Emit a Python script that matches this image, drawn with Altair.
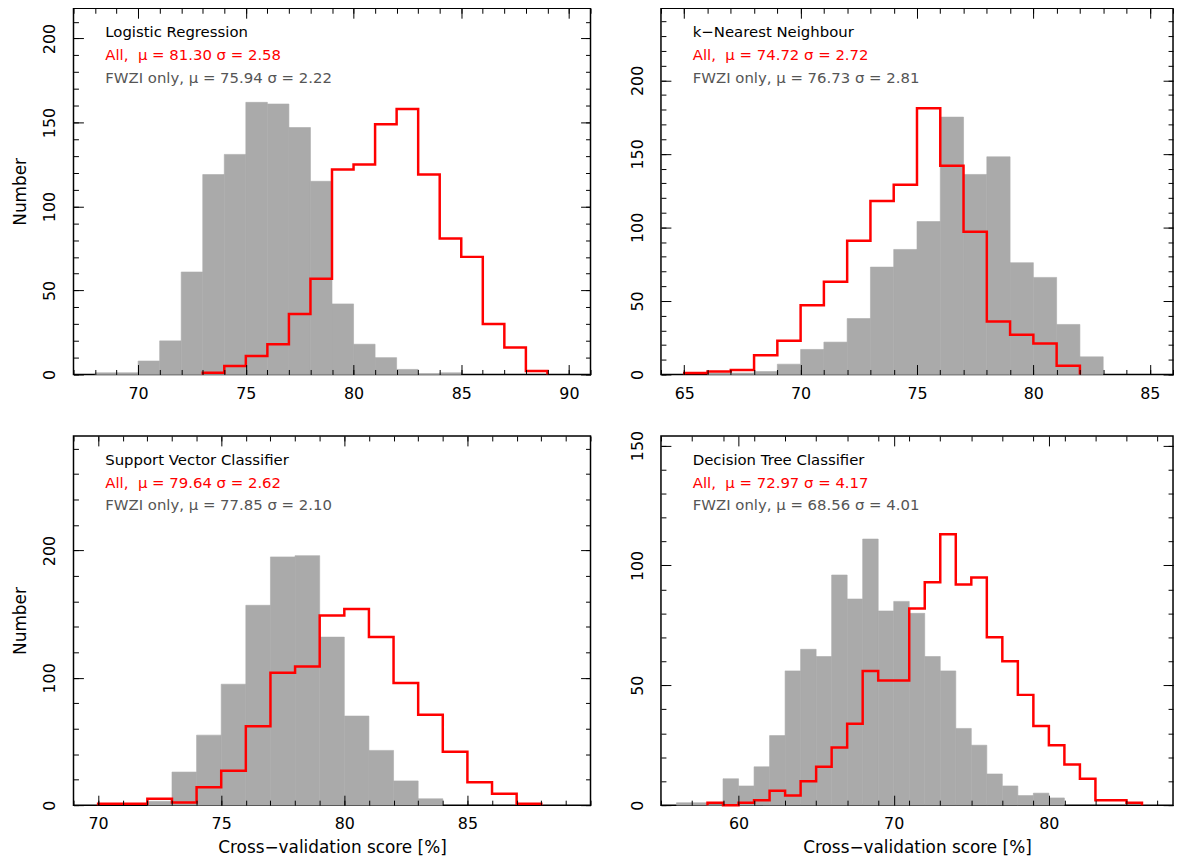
import altair as alt
import pandas as pd

FONT = "DejaVu Sans"

# ---------------- data ----------------
# Logistic Regression
lr_gray_start = 68
lr_gray = [1, 1, 8, 20, 61, 119, 131, 162, 161, 147, 115, 42, 18, 10, 3, 0, 1]
lr_red_start = 73
lr_red = [1, 5, 11, 18, 36, 57, 122, 125, 149, 158, 119, 81, 70, 30, 16, 2]

# k-Nearest Neighbour
knn_gray_start = 66
knn_gray = [1, 1, 2, 7, 17, 22, 38, 73, 85, 104, 175, 136, 148, 76, 66, 34, 12]
knn_red_start = 65
knn_red = [1, 2, 3, 13, 23, 47, 63, 91, 118, 129, 181, 142, 97, 36, 27, 21, 6]

# Support Vector Classifier
svc_gray_start = 72
svc_gray = [3, 26, 55, 95, 157, 195, 196, 132, 70, 43, 19, 5]
svc_red_start = 70
svc_red = [1, 1, 5, 2, 14, 27, 62, 104, 109, 149, 154, 132, 96, 71, 42, 18, 9, 1]

# Decision Tree Classifier
dt_gray_start = 56
dt_gray = [1, 1, 0, 11, 8, 16, 29, 56, 65, 62, 96, 86, 111, 81, 85, 80, 62, 56,
           32, 25, 13, 8, 4, 5, 3]
dt_red_start = 58
dt_red = [1, 0, 1, 2, 6, 4, 10, 16, 24, 34, 56, 52, 52, 82, 93, 113, 92, 95, 70,
          60, 46, 33, 25, 17, 11, 2, 2, 1]

titles = ["Logistic Regression", "k\u2212Nearest Neighbour",
          "Support Vector Classifier", "Decision Tree Classifier"]
all_stats = [("81.30", "2.58"), ("74.72", "2.72"), ("79.64", "2.62"), ("72.97", "4.17")]
fwzi_stats = [("75.94", "2.22"), ("76.73", "2.81"), ("77.85", "2.10"), ("68.56", "4.01")]

x_domains = [[67, 91], [64, 86], [69, 90], [55, 88]]
x_major = [[70, 75, 80, 85, 90], [65, 70, 75, 80, 85], [70, 75, 80, 85], [60, 70, 80]]
x_minor_step = [1, 1, 1, 2]
y_domains = [[0, 218], [0, 249], [0, 290], [0, 154]]
y_major = [[0, 50, 100, 150, 200], [0, 50, 100, 150, 200], [0, 100, 200], [0, 50, 100, 150]]
y_minor_step = [10, 10, 20, 10]

X_TITLE = "Cross\u2212validation score [%]"
Y_TITLE = "Number"

GRAY = "#aaaaaa"
RED = "#ff0000"
TXT_GRAY = "#555555"


def frange(lo, hi, step):
    out = []
    v = lo
    while v <= hi:
        out.append(v)
        v += step
    return out


def bars_df(start, counts):
    return pd.DataFrame({
        "x0": [start + i for i in range(len(counts))],
        "x1": [start + i + 1 for i in range(len(counts))],
        "count": counts,
    })


def step_df(start, counts):
    xs = [start] + [start + i for i in range(len(counts))] + [start + len(counts)]
    ys = [0] + list(counts) + [0]
    return pd.DataFrame({"x": xs, "count": ys, "order": list(range(len(xs)))})


def label_axis(orient, values, title, is_y=False):
    kw = dict(orient=orient, values=values, ticks=False, domain=False, grid=False,
              labelFont=FONT, labelFontSize=16, labelColor="black",
              titleFont=FONT, titleFontSize=17, titleFontWeight="normal",
              titleColor="black", title=title)
    if is_y:
        kw.update(labelAngle=-90, labelAlign="center", labelBaseline="bottom",
                  labelPadding=16, titlePadding=12)
    else:
        kw.update(labelPadding=11, titlePadding=8)
    return alt.Axis(**kw)


def tick_axis(orient, values, size):
    return alt.Axis(orient=orient, values=values, ticks=True,
                    tickSize=alt.ExprRef(str(-size)), tickColor="black", tickWidth=1,
                    labels=False, domain=False, grid=False, title=None, zindex=2)


def panel(i, gray_start, gray, red_start, red, width, height, ytitle, xtitle):
    xs = alt.Scale(domain=x_domains[i], nice=False, zero=False)
    ys = alt.Scale(domain=y_domains[i], nice=False, zero=False)
    xmin = frange(x_domains[i][0], x_domains[i][1], x_minor_step[i])
    ymin = frange(0, y_domains[i][1], y_minor_step[i])

    gdf = bars_df(gray_start, gray)
    rdf = step_df(red_start, red)

    bars = alt.Chart(gdf).mark_rect(color=GRAY, stroke=GRAY, strokeWidth=0.6,
                                    opacity=1).encode(
        x=alt.X("x0:Q", scale=xs, axis=label_axis("bottom", x_major[i], xtitle)),
        x2="x1:Q",
        y=alt.Y("count:Q", scale=ys, axis=label_axis("left", y_major[i], ytitle, True)),
        y2=alt.datum(0),
    )
    line = alt.Chart(rdf).mark_line(color=RED, strokeWidth=2.5,
                                    interpolate="step-after").encode(
        x=alt.X("x:Q", scale=xs, axis=tick_axis("bottom", x_major[i], 10)),
        y=alt.Y("count:Q", scale=ys, axis=tick_axis("left", y_major[i], 10)),
        order="order:Q",
    )
    inv1 = alt.Chart(gdf).mark_point(opacity=0, size=1).encode(
        x=alt.X("x0:Q", scale=xs, axis=tick_axis("bottom", xmin, 5)),
        y=alt.Y("count:Q", scale=ys, axis=tick_axis("left", ymin, 5)),
    )
    inv2 = alt.Chart(gdf).mark_point(opacity=0, size=1).encode(
        x=alt.X("x0:Q", scale=xs, axis=tick_axis("top", x_major[i], 10)),
        y=alt.Y("count:Q", scale=ys, axis=tick_axis("right", y_major[i], 10)),
    )
    inv3 = alt.Chart(gdf).mark_point(opacity=0, size=1).encode(
        x=alt.X("x0:Q", scale=xs, axis=tick_axis("top", xmin, 5)),
        y=alt.Y("count:Q", scale=ys, axis=tick_axis("right", ymin, 5)),
    )
    lines = [
        (titles[i], "black", 29),
        ("All,\u00a0\u00a0\u03bc = %s \u03c3 = %s" % all_stats[i], RED, 52),
        ("FWZI only, \u03bc = %s \u03c3 = %s" % fwzi_stats[i], TXT_GRAY, 75),
    ]
    texts = []
    for t, c, yy in lines:
        texts.append(
            alt.Chart(pd.DataFrame({"t": [t]})).mark_text(
                align="left", baseline="alphabetic", font=FONT, fontSize=15, color=c
            ).encode(x=alt.value(32), y=alt.value(yy), text="t:N")
        )
    return alt.layer(bars, line, inv1, inv2, inv3, *texts).resolve_axis(
        x="independent", y="independent"
    ).properties(width=width, height=height)


p1 = panel(0, lr_gray_start, lr_gray, lr_red_start, lr_red, 521, 369, Y_TITLE, None)
p2 = panel(1, knn_gray_start, knn_gray, knn_red_start, knn_red, 516, 369, None, None)
p3 = panel(2, svc_gray_start, svc_gray, svc_red_start, svc_red, 521, 372, Y_TITLE, X_TITLE)
p4 = panel(3, dt_gray_start, dt_gray, dt_red_start, dt_red, 516, 372, None, X_TITLE)

row1 = alt.hconcat(p1, p2, spacing=36)
row2 = alt.hconcat(p3, p4, spacing=36)
chart = alt.vconcat(row1, row2, spacing=27).properties(
    padding={"left": 3, "top": -5, "right": 0, "bottom": 0},
    background="white",
).configure_view(stroke="black", strokeWidth=1.5)

chart.save("out.html", embed_options={"renderer": "svg", "actions": False})
